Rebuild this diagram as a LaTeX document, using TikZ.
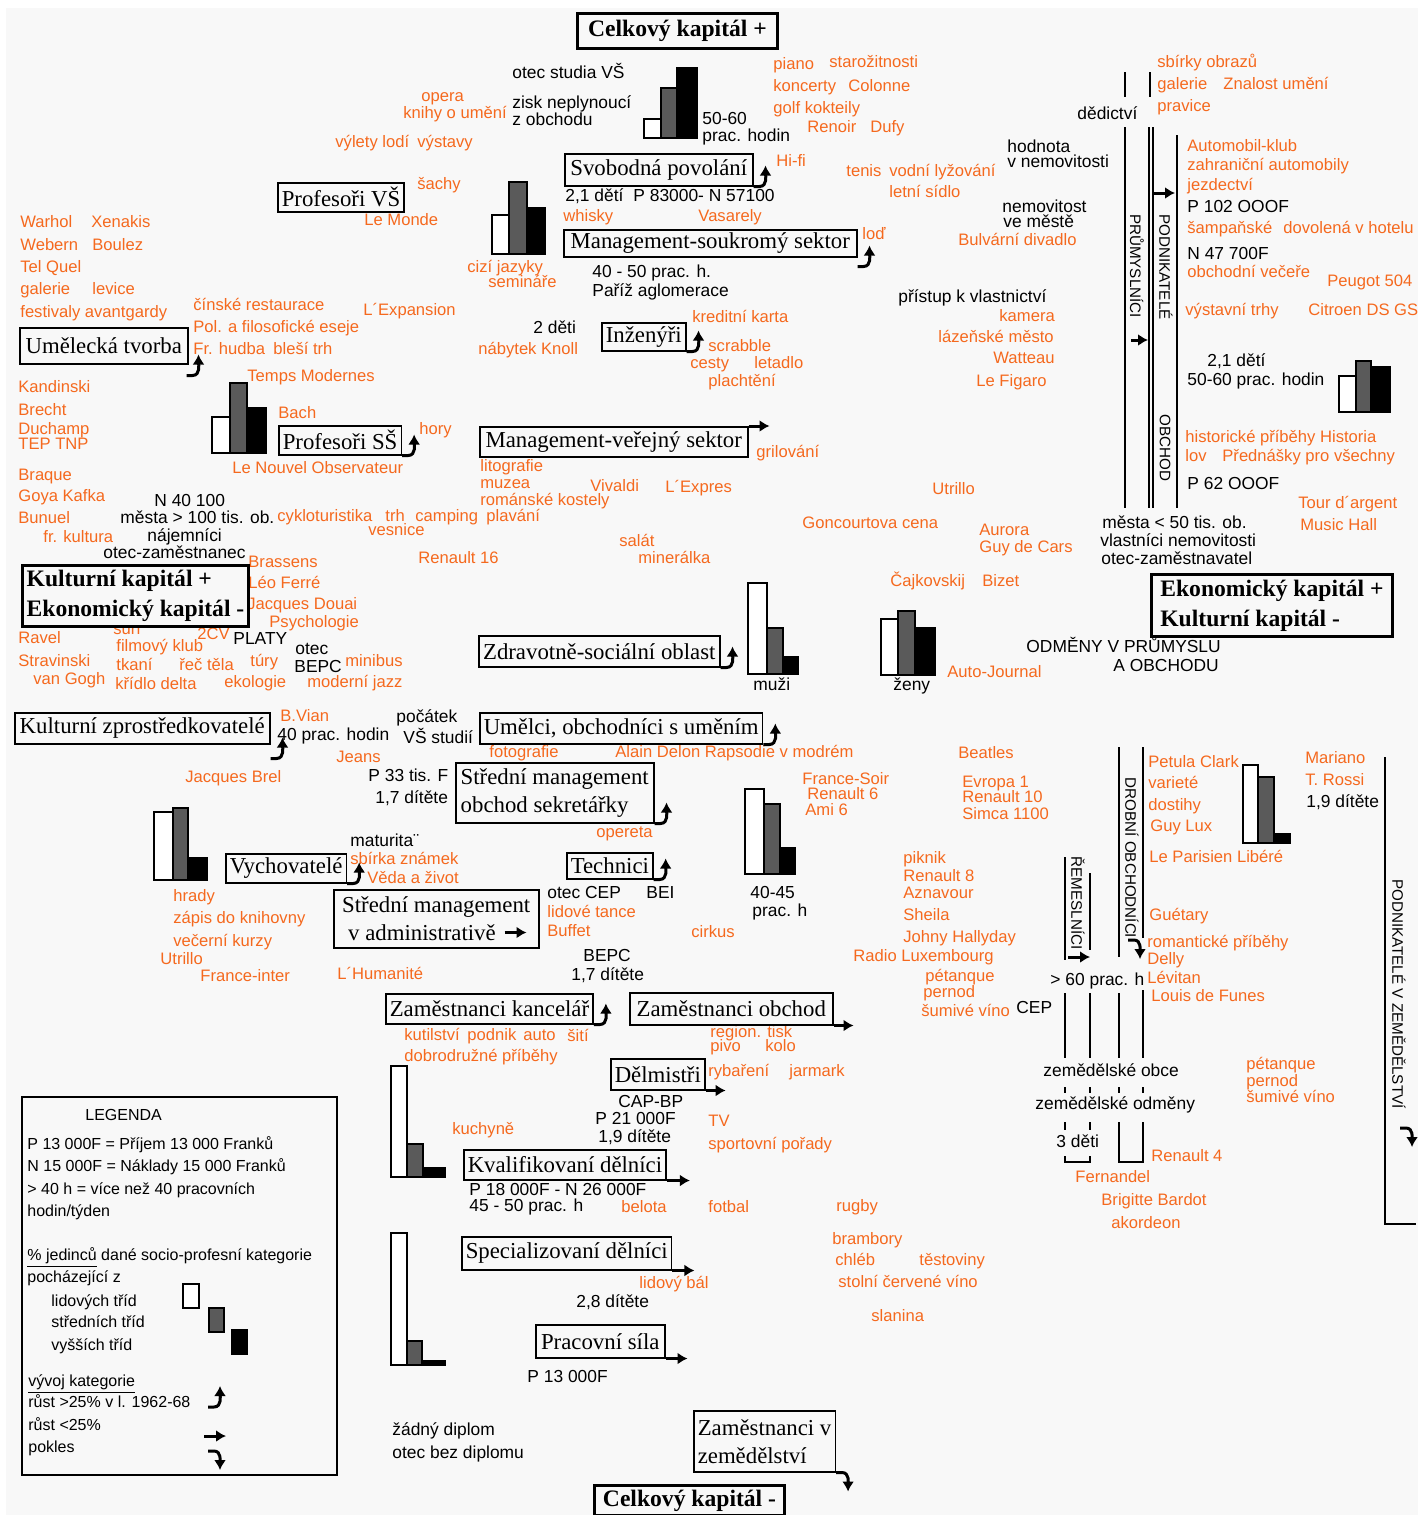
\documentclass[tikz,border=0pt]{standalone}
\usepackage{fontspec}
\setmainfont{Liberation Serif}
\newfontfamily\sansf{Liberation Sans}
\usetikzlibrary{arrows.meta}

\definecolor{orng}{RGB}{245,105,30}
\definecolor{bargray}{RGB}{90,90,90}
\definecolor{paper}{RGB}{248,248,248}

\tikzset{
	lbl/.style = {font = \sansf\fontsize{8.3}{10}\selectfont, text = orng, anchor = west, inner sep = 0pt, text height = 6.2pt, text depth = 1.8pt},
	note/.style = {font = \sansf\fontsize{8.7}{10}\selectfont, anchor = west, inner sep = 0pt, text height = 6.4pt, text depth = 1.8pt},
	leg/.style = {font = \sansf\fontsize{8}{10}\selectfont, anchor = west, inner sep = 0pt, text height = 6pt, text depth = 1.7pt},
	vert/.style = {font = \sansf\fontsize{7.6}{9}\selectfont, rotate = -90, inner sep = 0pt},
	cat/.style = {draw, fill = paper, line width = 0.75pt, font = \fontsize{11.4}{14}\selectfont, inner xsep = 2pt, inner ysep = 1pt, anchor = north west, align = left},
	capbox/.style = {cat, line width = 1.5pt, font = \bfseries\fontsize{11.8}{15}\selectfont},
	barbox/.style = {draw, line width = 0.9pt},
	sep/.style = {line width = 0.9pt},
	icon/.style = {line width = 1.5pt, -{Latex[length = 5pt, width = 6pt]}},
	uph/.pic = {\draw[icon] (0,0) -- (6,0) to[out = 0, in = -90] (12,-21);},
	dnh/.pic = {\draw[icon] (0,0) -- (6,0) to[out = 0, in = 90] (12,19);}
}

\begin{document}
\begin{tikzpicture}[x = 0.5pt, y = -0.5pt]

	% Page

	\useasboundingbox (0,0) rectangle (1418,1515);
	\fill[paper] (6,8) rectangle (1418,1515);

	% Bar charts: white = lower classes, grey = middle, black = upper

	\foreach \xa/\xb/\xc/\xd/\base/\ta/\tb/\tc in {
		644/661/677/697/138/119/88/68, 492/509/527/545/254/215/182/208,
		212/230/247/266/453/417/383/408, 1339/1356/1371/1390/412/376/361/367,
		748/767/783/798/674/583/628/657, 881/898/915/935/675/619/611/628,
		154/173/188/207/880/812/808/858, 745/764/780/795/874/789/804/848,
		1243/1258/1274/1290/843/765/777/834, 391/407/423/445/1177/1066/1144/1168,
		391/407/422/445/1365/1233/1341/1361}
	{
		\draw[barbox, fill = white] (\xa,\base) rectangle (\xb,\ta);
		\draw[barbox, fill = bargray] (\xb,\base) rectangle (\xc,\tb);
		\draw[barbox, fill = black] (\xc,\base) rectangle (\xd,\tc);
	}

	% Practices and tastes

	\foreach \x/\y/\txt [count = \i] in {
		421/97/opera, 403/114/knihy o umění, 335/143/výlety lodí, 417/143/výstavy,
		417/185/šachy, 364/221/Le Monde,
		773/65/piano, 829/63/starožitnosti, 773/87/koncerty, 848/87/Colonne,
		773/109/golf kokteily, 807/128/Renoir, 870/128/Dufy,
		776/162/Hi-fi, 563/217/whisky, 698/217/Vasarely, 862/235/loď,
		467/268/cizí jazyky, 488/283/semináře,
		846/172/tenis, 889/172/vodní lyžování, 889/193/letní sídlo,
		1157/63/sbírky obrazů, 1157/85/galerie, 1223/85/Znalost umění, 1157/107/pravice,
		958/241/Bulvární divadlo,
		1187/147/Automobil-klub, 1187/166/zahraniční automobily, 1187/186/jezdectví,
		1187/229/šampaňské, 1283/229/dovolená v hotelu, 1187/273/obchodní večeře,
		1327/282/Peugot 504, 1185/311/výstavní trhy, 1308/311/Citroen DS GS,
		999/317/kamera, 938/338/lázeňské město, 993/359/Watteau, 976/382/Le Figaro,
		20/223/Warhol, 91/223/Xenakis, 20/246/Webern, 92/246/Boulez, 20/268/Tel Quel,
		20/290/galerie, 92/290/levice, 20/313/festivaly avantgardy,
		193/306/čínské restaurace, 193/328/Pol. a filosofické eseje, 193/350/Fr. hudba,
		273/350/bleší trh, 363/311/L´Expansion, 247/377/Temps Modernes,
		478/350/nábytek Knoll, 692/318/kreditní karta, 708/347/scrabble, 690/364/cesty,
		754/364/letadlo, 708/382/plachtění,
		18/388/Kandinski, 18/411/Brecht, 18/430/Duchamp, 18/445/TEP TNP, 18/476/Braque,
		18/497/Goya Kafka, 18/519/Bunuel, 43/538/fr. kultura,
		278/414/Bach, 419/430/hory, 232/469/Le Nouvel Observateur,
		277/517/cykloturistika, 385/517/trh, 415/517/camping, 368/531/vesnice,
		486/517/plavání, 418/559/Renault 16,
		756/453/grilování, 480/467/litografie, 480/484/muzea, 480/501/románské kostely,
		590/487/Vivaldi, 665/488/L´Expres,
		932/490/Utrillo, 802/524/Goncourtova cena, 979/531/Aurora, 979/548/Guy de Cars,
		619/542/salát, 638/559/minerálka,
		1185/438/historické příběhy Historia, 1185/457/lov, 1222/457/Přednášky pro všechny,
		1298/504/Tour d´argent, 1300/526/Music Hall,
		248/563/Brassens, 248/584/Léo Ferré, 247/605/Jacques Douai, 269/623/Psychologie,
		113/630/surf, 197/635/2CV,
		18/639/Ravel, 18/662/Stravinski, 33/680/van Gogh, 116/647/filmový klub,
		116/666/tkaní, 179/666/řeč těla, 115/685/křídlo delta, 250/662/túry,
		224/683/ekologie, 345/662/minibus, 307/683/moderní jazz,
		890/582/Čajkovskij, 982/582/Bizet, 947/673/Auto-Journal,
		280/717/B.Vian, 336/758/Jeans, 489/753/fotografie, 615/753/Alain Delon Rapsodie v modrém,
		958/754/Beatles,
		185/778/Jacques Brel, 802/780/France-Soir, 807/795/Renault 6, 805/811/Ami 6,
		962/783/Evropa 1, 962/798/Renault 10, 962/815/Simca 1100,
		1148/763/Petula Clark, 1148/784/varieté, 1148/806/dostihy, 1150/827/Guy Lux,
		1149/858/Le Parisien Libéré, 1305/759/Mariano, 1305/781/T. Rossi,
		596/833/opereta, 350/860/sbírka známek, 367/879/Věda a život,
		173/897/hrady, 173/919/zápis do knihovny, 173/942/večerní kurzy, 160/960/Utrillo,
		200/977/France-inter, 337/975/L´Humanité,
		547/913/lidové tance, 547/932/Buffet, 691/933/cirkus,
		903/859/piknik, 903/877/Renault 8, 903/894/Aznavour, 903/916/Sheila,
		903/938/Johny Hallyday, 853/957/Radio Luxembourg, 925/977/pétanque,
		923/993/pernod, 921/1012/šumivé víno,
		1149/916/Guétary, 1147/943/romantické příběhy, 1147/960/Delly, 1147/979/Lévitan,
		1151/997/Louis de Funes,
		404/1036/kutilství, 467/1036/podnik, 523/1036/auto, 567/1037/šití,
		404/1057/dobrodružné příběhy,
		710/1033/region. tisk, 710/1047/pivo, 765/1047/kolo, 708/1072/rybaření, 789/1072/jarmark,
		1246/1065/pétanque, 1246/1082/pernod, 1246/1098/šumivé víno,
		452/1130/kuchyně, 708/1122/TV, 708/1145/sportovní pořady,
		621/1208/belota, 708/1208/fotbal, 836/1207/rugby,
		832/1240/brambory, 835/1261/chléb, 919/1261/těstoviny, 838/1283/stolní červené víno,
		871/1317/slanina, 639/1284/lidový bál,
		1151/1157/Renault 4, 1075/1178/Fernandel, 1101/1201/Brigitte Bardot, 1111/1224/akordeon}
		\node[lbl] (o\i) at (\x,\y) {\txt};

	% Conditions of existence

	\foreach \x/\y/\txt [count = \i] in {
		512/74/otec studia VŠ, 512/104/zisk neplynoucí, 512/121/z obchodu,
		702/120/50-60, 702/137/prac. hodin, 565/197/{2,1 dětí}, 633/197/P 83000- N 57100,
		592/273/40 - 50 prac. h., 592/292/Paříž aglomerace, 533/329/2 děti,
		1077/115/dědictví, 1007/148/hodnota, 1007/163/v nemovitosti,
		1002/208/nemovitost, 1003/223/ve městě, 898/298/přístup k vlastnictví,
		1187/208/P 102 OOOF, 1187/255/N 47 700F, 1207/362/{2,1 dětí}, 1187/381/50-60 prac. hodin,
		1187/485/P 62 OOOF, 1102/524/města < 50 tis. ob., 1100/542/vlastníci nemovitosti,
		1101/560/otec-zaměstnavatel, 1026/648/ODMĚNY V PRŮMYSLU, 1113/667/A OBCHODU,
		753/686/muži, 893/686/ženy,
		154/502/N 40 100, 120/519/města > 100 tis. ob., 147/537/nájemníci, 103/554/otec-zaměstnanec,
		233/640/PLATY, 295/650/otec, 294/668/BEPC, 277/736/40 prac. hodin,
		396/718/počátek, 403/739/VŠ studií,
		368/777/P 33 tis. F, 375/799/{1,7 dítěte}, 350/842/maturita¨,
		547/894/otec CEP, 646/894/BEI, 750/894/40-45, 752/912/prac. h,
		583/957/BEPC, 571/976/{1,7 dítěte}, 1016/1009/CEP,
		618/1103/CAP-BP, 595/1120/P 21 000F, 598/1138/{1,9 dítěte},
		469/1191/P 18 000F - N 26 000F, 469/1207/45 - 50 prac. h, 576/1303/{2,8 dítěte},
		527/1378/P 13 000F, 392/1431/žádný diplom, 392/1454/otec bez diplomu,
		1050/981/> 60 prac. h, 1043/1072/zemědělské obce, 1035/1105/zemědělské odměny,
		1056/1143/3 děti, 1306/803/{1,9 dítěte}}
		\node[note] (n\i) at (\x,\y) {\txt};

	% Occupational categories

	\node[capbox, minimum width = 100pt, minimum height = 17.5pt] (celkplus) at (576,12) {Celkový kapitál +};
	\node[cat, minimum width = 63pt, minimum height = 14.5pt] (profvs) at (277,182) {Profesoři VŠ};
	\node[cat, minimum width = 94pt, minimum height = 16pt] (svob) at (564,153) {Svobodná povolání};
	\node[cat, minimum width = 146.5pt, minimum height = 13.5pt] (mgsouk) at (563,229) {Management-soukromý sektor};
	\node[cat, minimum width = 84pt, minimum height = 18pt] (umel) at (19,327) {Umělecká tvorba};
	\node[cat, minimum width = 42pt, minimum height = 14pt] (inz) at (601,322) {Inženýři};
	\node[cat, minimum width = 61pt, minimum height = 14.5pt] (profss) at (278,425) {Profesoři SŠ};
	\node[cat, minimum width = 134pt, minimum height = 15pt] (mgver) at (479,426) {Management-veřejný sektor};
	\node[capbox, minimum width = 113pt, minimum height = 30.5pt] (kultplus) at (21,564) {Kulturní kapitál +\\Ekonomický kapitál -};
	\node[capbox, minimum width = 120.5pt, minimum height = 31pt] (ekoplus) at (1150,573) {Ekonomický kapitál +\\Kulturní kapitál -};
	\node[cat, minimum width = 120.5pt, minimum height = 15.5pt] (zdrav) at (478,635) {Zdravotně-sociální oblast};
	\node[cat, minimum width = 127.5pt, minimum height = 15.5pt] (kultzpr) at (14,712) {Kulturní zprostředkovatelé};
	\node[cat, minimum width = 139pt, minimum height = 15.5pt] (umelci) at (479,712) {Umělci, obchodníci s uměním};
	\node[cat, minimum width = 99pt, minimum height = 30pt] (stredobch) at (455,762) {Střední management\\obchod sekretářky};
	\node[cat, minimum width = 60pt, minimum height = 14.5pt] (vychov) at (225,853) {Vychovatelé};
	\node[cat, minimum width = 40.5pt, minimum height = 13pt] (technici) at (566,852) {Technici};
	\node[cat, minimum width = 102.5pt, minimum height = 29pt] (stredadm) at (333,889) {Střední management\\\hspace{3pt}v administrativě};
	\node[cat, minimum width = 101.5pt, minimum height = 15pt] (kancel) at (385,993) {Zaměstnanci kancelář};
	\node[cat, minimum width = 101.5pt, minimum height = 16pt] (obchod) at (629,992) {Zaměstnanci obchod};
	\node[cat, minimum width = 46pt, minimum height = 15.5pt] (delm) at (610,1058) {Dělmistři};
	\node[cat, minimum width = 96.5pt, minimum height = 15pt] (kvalif) at (463,1149) {Kvalifikovaní dělníci};
	\node[cat, minimum width = 99.5pt, minimum height = 16.5pt] (special) at (461,1236) {Specializovaní dělníci};
	\node[cat, minimum width = 64.5pt, minimum height = 16.5pt] (pracsila) at (535,1324) {Pracovní síla};
	\node[cat, minimum width = 70.5pt, minimum height = 30.5pt] (zemed) at (693,1410) {Zaměstnanci v\\zemědělství};
	\node[capbox, minimum width = 95pt, minimum height = 15pt] (celkminus) at (593,1484) {Celkový kapitál -};

	% Trends 1962-68

	\pic[shift = {(-2,11)}] at (umel.south east) {uph};
	\pic at (svob.south east) {uph};
	\pic[shift = {(0,9)}] at (mgsouk.south east) {uph};
	\pic at (inz.south east) {uph};
	\pic at (profss.south east) {uph};
	\pic at (zdrav.south east) {uph};
	\pic[shift = {(0,14)}] at (kultzpr.south east) {uph};
	\pic at (umelci.south east) {uph};
	\pic at (stredobch.south east) {uph};
	\pic at (vychov.south east) {uph};
	\pic at (technici.south east) {uph};
	\pic at (kancel.south east) {uph};
	\pic at (zemed.south east) {dnh};

	\draw[icon] (mgver.north east) -- ++(21,0);
	\draw[icon] (obchod.south east) -- ++(20,0);
	\draw[icon] (delm.south east) -- ++(20,0);
	\draw[icon] (kvalif.south east) -- ++(23,0);
	\draw[icon] (special.south east) -- ++(22,0);
	\draw[icon] (pracsila.south east) -- ++(22,0);
	\draw[icon] (stredadm.south east) ++(-35,-16) -- ++(22,0);

	% Industry and commerce owners

	\begin{scope}[sep]
		\draw (1125,72) -- (1125,97);
		\draw (1150,72) -- (1150,97);
		\draw (1125,127) -- (1125,508);
		\draw (1149,127) -- (1149,508);
		\draw (1153,127) -- (1153,508);
		\draw (1177,135) -- (1177,508);
	\end{scope}

	\node[vert] (prum) at (1137,266) {PRŮMYSLNÍCI};
	\node[vert] (podn) at (1166,267) {PODNIKATELÉ};
	\node[vert] (obch) at (1165,448) {OBCHOD};

	\draw[icon] (1153,193) -- (1175,193);
	\draw[icon] (1131,340) -- (1148,340);

	% Craftsmen, shopkeepers, farm owners

	\begin{scope}[sep]
		\draw (1119,747) -- (1119,957);
		\draw (1119,993) -- (1119,1058);
		\draw (1119,1087) -- (1119,1093);
		\draw (1119,1122) -- (1119,1162) -- (1143,1162) -- (1143,1122);
		\draw (1143,747) -- (1143,938);
		\draw (1143,990) -- (1143,1058);
		\draw (1143,1087) -- (1143,1093);
		\draw (1065,857) -- (1065,960);
		\draw (1065,993) -- (1065,1058);
		\draw (1065,1087) -- (1065,1093);
		\draw (1065,1122) -- (1065,1130);
		\draw (1090,873) -- (1090,950);
		\draw (1090,993) -- (1090,1058);
		\draw (1090,1087) -- (1090,1093);
		\draw (1090,1122) -- (1090,1130);
		\draw (1065,1156) -- (1065,1162) -- (1090,1162) -- (1090,1156);
		\draw (1385,757) -- (1385,1224) -- (1416,1224);
	\end{scope}

	\node[vert] (drob) at (1132,858) {DROBNÍ OBCHODNÍCI};
	\node[vert] (rem) at (1078,903) {ŘEMESLNÍCI};
	\node[vert] (podzem) at (1399,994) {PODNIKATELÉ V ZEMĚDĚLSTVÍ};

	\pic at (1128,940) {dnh};
	\draw[icon] (1068,957) -- (1090,957);
	\pic at (1400,1128) {dnh};

	% Legend

	\draw[line width = 0.8pt] (22,1097) rectangle (337,1475);
	\node[leg] (legtitle) at (85,1116) {LEGENDA};

	\foreach \x/\y/\txt [count = \i] in {
		27/1145/P 13 000F = Příjem 13 000 Franků,
		27/1167/N 15 000F = Náklady 15 000 Franků,
		27/1190/> 40 h = více než 40 pracovních,
		27/1212/{hodin/týden},
		27/1256/{\underline{\% jedinců} dané socio-profesní kategorie},
		27/1278/pocházející z,
		51/1302/lidových tříd, 51/1323/středních tříd, 51/1346/vyšších tříd,
		28/1382/{\underline{vývoj kategorie}},
		28/1403/růst >25\% v l. 1962-68, 28/1426/růst <25\%, 28/1448/pokles}
		\node[leg] (l\i) at (\x,\y) {\txt};

	\draw[barbox, fill = white] (183,1284) rectangle (199,1308);
	\draw[barbox, fill = bargray] (209,1308) rectangle (224,1332);
	\draw[barbox, fill = black] (232,1330) rectangle (247,1354);

	\pic at (208,1407) {uph};
	\draw[icon] (204,1436) -- (226,1436);
	\pic at (208,1451) {dnh};

\end{tikzpicture}
\end{document}
